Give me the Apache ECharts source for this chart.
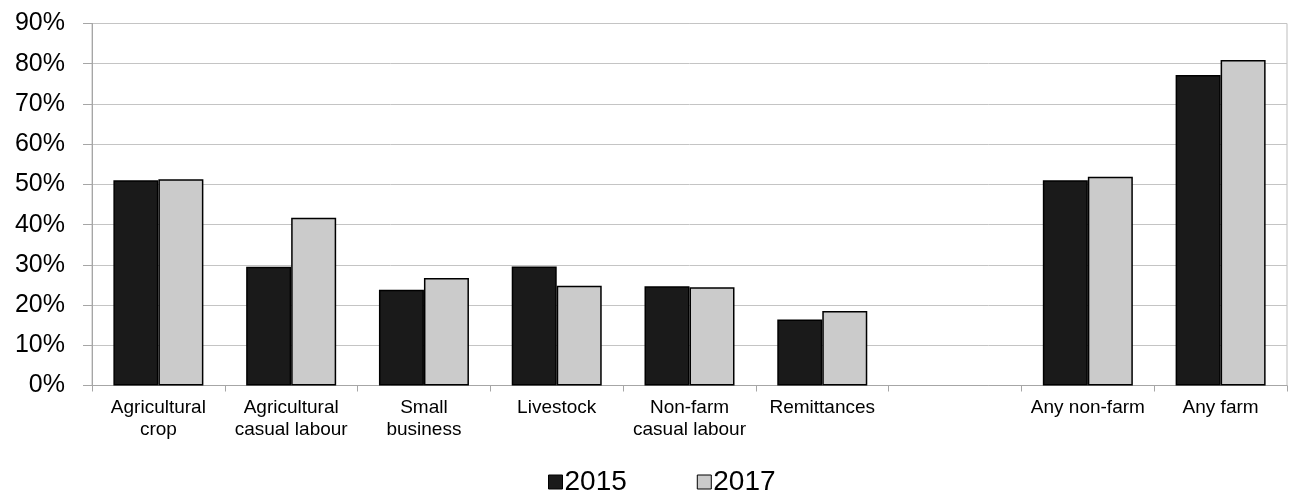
<!DOCTYPE html>
<html>
<head>
<meta charset="utf-8">
<title>Income sources 2015 vs 2017</title>
<script src="https://cdn.jsdelivr.net/npm/echarts@6/dist/echarts.min.js"></script>
<style>
    html, body { margin: 0; padding: 0; background: #fff; }
    #chart { width: 1289px; height: 495px; }
</style>
</head>
<body>
<div id="chart"></div>
<script>
// categories (empty slot separates the two groups)
var categories = ['Agricultural\ncrop', 'Agricultural\ncasual labour', 'Small\nbusiness', 'Livestock',
    'Non-farm\ncasual labour', 'Remittances', '', 'Any non-farm', 'Any farm'];
// share of households, %
var values2015 = [51.0, 29.5, 23.8, 29.6, 24.7, 16.4, null, 51.0, 77.2];
var values2017 = [51.3, 41.7, 26.7, 24.8, 24.4, 18.5, null, 51.9, 80.9];
var seriesNames = ['2015', '2017'];

var chart = echarts.init(document.getElementById('chart'));
var font = 'Arial, "Liberation Sans", sans-serif';

chart.setOption({
    animation: false,
    textStyle: { fontFamily: font, color: '#000' },
    grid: {
        left: 92,
        right: 2,
        top: 23.5,
        bottom: 109.5,
        show: true,
        borderColor: '#bdbdbd',
        borderWidth: 1
    },
    legend: {
        data: seriesNames,
        left: 543,
        top: 463,
        itemWidth: 14,
        itemHeight: 14,
        itemGap: 70,
        icon: 'rect',
        textStyle: { fontSize: 28, color: '#000', padding: [0, 0, 0, -3] },
        itemStyle: { borderColor: '#000', borderWidth: 1 }
    },
    xAxis: {
        type: 'category',
        data: categories,
        axisLine: { lineStyle: { color: '#a6a6a6', width: 1 } },
        axisTick: { show: true, length: 6, lineStyle: { color: '#a6a6a6' } },
        axisLabel: {
            interval: 0,
            fontSize: 19,
            lineHeight: 22,
            margin: 11,
            color: '#000'
        }
    },
    yAxis: {
        type: 'value',
        min: 0,
        max: 90,
        interval: 10,
        axisLine: { show: true, lineStyle: { color: '#a6a6a6' } },
        axisTick: { show: true, length: 9, lineStyle: { color: '#a6a6a6' } },
        splitLine: { lineStyle: { color: '#c4c4c4', width: 1 } },
        axisLabel: {
            formatter: '{value}%',
            fontSize: 25,
            margin: 27,
            color: '#000'
        }
    },
    series: [{
        name: seriesNames[0],
        type: 'bar',
        data: values2015,
        barWidth: 45,
        barGap: '0%',
        itemStyle: { color: '#1a1a1a', borderColor: '#000', borderWidth: 1.5 }
    }, {
        name: seriesNames[1],
        type: 'bar',
        data: values2017,
        barWidth: 45,
        barGap: '0%',
        itemStyle: { color: '#cbcbcb', borderColor: '#000', borderWidth: 1.5 }
    }]
});
</script>
</body>
</html>
